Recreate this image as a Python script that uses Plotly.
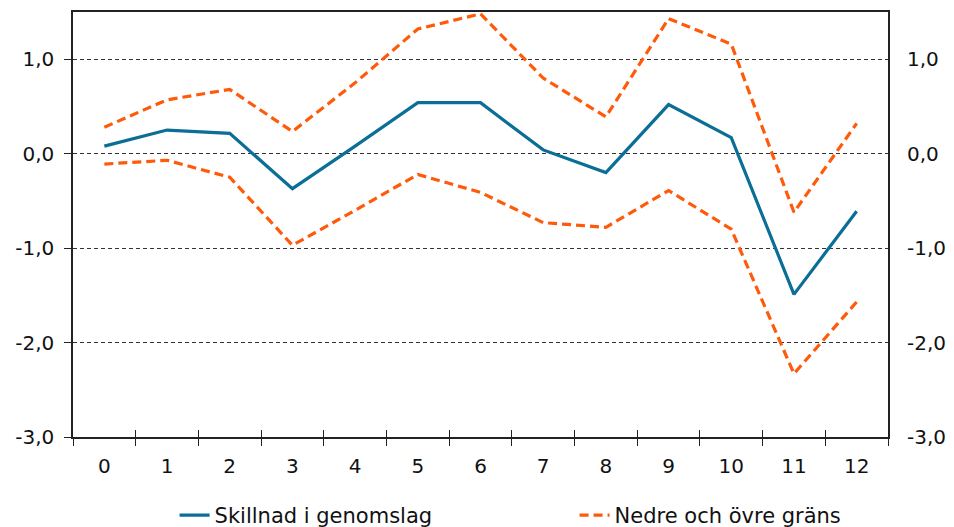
import plotly.graph_objects as go

# Horizon (categories on the x axis)
horizon = [str(i) for i in range(13)]

# Difference in pass-through and its confidence band
skillnad = [0.08, 0.25, 0.215, -0.37, 0.08, 0.54, 0.54, 0.04, -0.20, 0.52, 0.17, -1.49, -0.61]
ovre = [0.28, 0.57, 0.68, 0.235, 0.75, 1.32, 1.48, 0.80, 0.39, 1.43, 1.16, -0.62, 0.32]
nedre = [-0.11, -0.07, -0.25, -0.97, -0.60, -0.22, -0.41, -0.73, -0.78, -0.39, -0.80, -2.33, -1.57]

# Y tick values and labels (Swedish decimal comma)
y_ticks = [-3, -2, -1, 0, 1]
y_labels = ["-3,0", "-2,0", "-1,0", "0,0", "1,0"]

BLUE = "#0A6E96"
ORANGE = "#FF5A0A"
FONT = dict(family="DejaVu Sans, Verdana, sans-serif", size=20, color="#111111")
LEG_FONT = dict(family="DejaVu Sans, Verdana, sans-serif", size=21, color="#111111")

fig = go.Figure()
fig.add_trace(go.Scatter(
    x=horizon, y=skillnad, mode="lines", name="Skillnad i genomslag",
    line=dict(color=BLUE, width=3.2),
))
fig.add_trace(go.Scatter(
    x=horizon, y=ovre, mode="lines", name="Nedre och övre gräns",
    line=dict(color=ORANGE, width=3.2, dash="9px,5px"), legendgroup="band",
))
fig.add_trace(go.Scatter(
    x=horizon, y=nedre, mode="lines", name="Nedre och övre gräns",
    line=dict(color=ORANGE, width=3.2, dash="9px,5px"), legendgroup="band",
    showlegend=False,
))
# Transparent copy on the secondary axes so the right-hand scale and the
# inner tick marks are drawn
fig.add_trace(go.Scatter(
    x=[int(h) for h in horizon], y=skillnad, mode="lines",
    xaxis="x2", yaxis="y2", line=dict(width=0, color="rgba(0,0,0,0)"),
    showlegend=False, hoverinfo="skip",
))

fig.update_layout(
    width=954, height=527,
    margin=dict(l=73, r=66, t=12, b=90),
    paper_bgcolor="white", plot_bgcolor="white",
    font=FONT,
    showlegend=True,
    legend=dict(
        orientation="h", xref="container", x=0.183, xanchor="left",
        yref="container", y=0.022, yanchor="middle",
        entrywidth=355, entrywidthmode="pixels",
        font=LEG_FONT, itemwidth=30,
    ),
    xaxis=dict(
        type="category", range=[-0.5, 12.5],
        tickson="boundaries", ticks="outside", ticklen=7, tickcolor="#222",
        showline=True, linecolor="#222", linewidth=2, mirror=True,
        showgrid=False, tickfont=FONT, ticklabelstandoff=10,
        zeroline=False, automargin=False,
    ),
    xaxis2=dict(
        overlaying="x", range=[-0.5, 12.5], anchor="y2", side="bottom",
        tickvals=[i - 0.5 for i in range(14)], ticks="inside", ticklen=7,
        tickcolor="#222", showticklabels=False, showline=False,
        showgrid=False, zeroline=False, automargin=False,
    ),
    yaxis=dict(
        range=[-3, 1.5], tickvals=y_ticks, ticktext=y_labels,
        ticks="outside", ticklen=7, tickcolor="#222",
        showline=True, linecolor="#222", linewidth=1.5, mirror=True,
        showgrid=True, gridcolor="#333", griddash="4px,3px", gridwidth=1,
        zeroline=False, tickfont=FONT, ticklabelstandoff=6, automargin=False,
    ),
    yaxis2=dict(
        overlaying="y", side="right", anchor="x2",
        range=[-3, 1.5], tickvals=y_ticks, ticktext=y_labels,
        ticks="", showline=False, showgrid=False, zeroline=False,
        tickfont=FONT, ticklabelstandoff=18, automargin=False,
    ),
)

fig.write_html("out.html")
